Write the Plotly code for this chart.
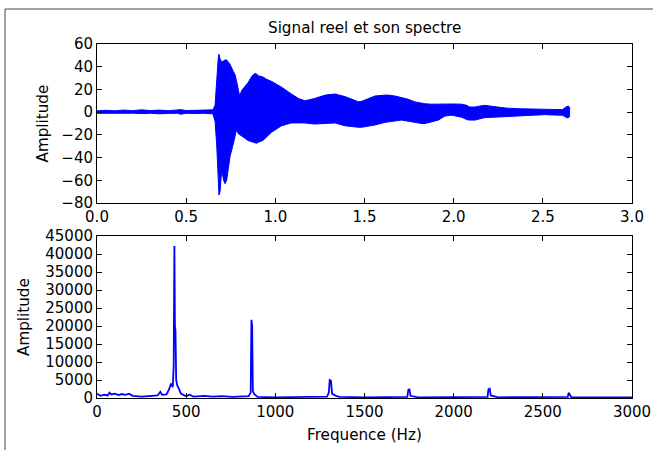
import plotly.graph_objects as go

W, H = 653, 450

# ---- Signal envelope (time s, upper / lower amplitude) ----
env_t = [0.000, 0.050, 0.100, 0.150, 0.200, 0.250, 0.300, 0.350, 0.400, 0.450,
         0.470, 0.500, 0.550, 0.600, 0.650, 0.662, 0.671, 0.680, 0.684, 0.690,
         0.699, 0.710, 0.718, 0.727, 0.736, 0.746, 0.764, 0.774, 0.783, 0.792,
         0.800, 0.811, 0.830, 0.847, 0.870, 0.886, 0.895, 0.905, 0.930, 0.950,
         0.980, 1.035, 1.090, 1.130, 1.166, 1.220, 1.280, 1.335, 1.390, 1.428,
         1.465, 1.484, 1.503, 1.559, 1.615, 1.634, 1.671, 1.709, 1.746, 1.783,
         1.820, 1.839, 1.877, 1.914, 1.950, 1.980, 2.000, 2.045, 2.073, 2.090,
         2.120, 2.150, 2.175, 2.220, 2.300, 2.370, 2.450, 2.510, 2.560, 2.610,
         2.625, 2.634, 2.645, 2.652]
env_hi = [1.2, 1.6, 1.2, 1.8, 1.3, 2.0, 1.4, 1.8, 1.3, 1.5,
          2.2, 1.4, 1.5, 1.3, 2.0, 6.0, 30.0, 48.0, 51.0, 47.0,
          44.0, 45.0, 46.0, 46.0, 44.0, 42.0, 36.0, 33.0, 27.0, 21.0,
          14.0, 19.0, 23.0, 26.0, 32.0, 34.0, 33.5, 32.0, 31.0, 29.0,
          27.0, 22.0, 16.0, 12.0, 10.0, 12.0, 15.0, 16.0, 13.7, 11.5,
          9.2, 9.5, 10.7, 14.2, 15.0, 15.0, 14.2, 13.0, 11.3, 9.0,
          7.7, 7.4, 7.0, 7.2, 7.5, 7.2, 7.2, 7.0, 6.0, 4.5,
          4.5, 5.5, 6.0, 5.0, 3.5, 3.0, 2.7, 2.4, 2.4, 2.2,
          4.0, 5.0, 5.3, 3.0]
env_lo = [-1.0, -0.8, -1.2, -1.0, -0.9, -1.3, -1.0, -1.5, -1.1, -1.0,
          -1.8, -1.0, -1.2, -1.0, -1.5, -8.0, -28.0, -72.0, -73.0, -70.0,
          -51.0, -60.0, -63.0, -60.0, -50.0, -39.0, -28.0, -22.0, -15.0, -19.0,
          -20.0, -20.6, -23.0, -25.0, -26.0, -27.0, -27.4, -26.5, -25.0, -22.0,
          -17.5, -12.0, -9.5, -9.5, -9.5, -10.5, -10.0, -9.5, -12.0, -12.8,
          -13.3, -13.3, -12.8, -11.3, -9.0, -8.5, -7.5, -7.0, -8.0, -9.3,
          -10.0, -10.0, -8.5, -7.0, -3.5, -2.8, -3.0, -4.5, -6.5, -7.0,
          -7.0, -6.0, -4.8, -4.5, -3.8, -3.3, -2.6, -2.2, -2.5, -2.8,
          -4.0, -5.0, -4.8, -3.0]

# ---- Spectrum (Hz, amplitude) ----
spec_f = [0, 20, 40, 60, 70, 80, 100, 120, 140, 160, 180, 200, 250, 300, 340,
          355, 365, 390, 405, 415, 425, 430, 434, 437, 440, 444, 450, 458, 470,
          500, 520, 540, 600, 650, 700, 760, 800, 850, 862, 866, 870, 874, 880,
          900, 1000, 1200, 1290, 1300, 1305, 1312, 1318, 1340, 1360, 1500,
          1740, 1746, 1752, 1758, 1800, 2190, 2195, 2202, 2208, 2250,
          2640, 2645, 2652, 2660, 3000]
spec_a = [1200, 600, 900, 700, 1500, 1000, 1200, 800, 1100, 900, 1200, 600, 400, 500, 700,
          1700, 900, 1000, 2500, 4000, 3000, 9000, 42200, 20000, 18900, 5000, 3500, 2700, 1200,
          500, 900, 400, 600, 400, 500, 300, 400, 500, 1500, 21700, 20000, 2000, 1200,
          300, 200, 200, 400, 1500, 5000, 4800, 1200, 600, 300, 200,
          300, 2300, 2400, 600, 200, 300, 2400, 2600, 700, 200,
          300, 1500, 1000, 200, 150]

top_xticks = [0.0, 0.5, 1.0, 1.5, 2.0, 2.5, 3.0]
top_yticks = [-80, -60, -40, -20, 0, 20, 40, 60]
bot_xticks = [0, 500, 1000, 1500, 2000, 2500, 3000]
bot_yticks = [0, 5000, 10000, 15000, 20000, 25000, 30000, 35000, 40000, 45000]

title_text = "Signal reel et son spectre"
ylabel = "Amplitude"
xlabel = "Frequence (Hz)"

BLUE = "#0000ff"
FONT = "DejaVu Sans"
TICK_SIZE = 15
LABEL_SIZE = 15.2

def px_x(p):
    return p / W

def px_y(p):
    return 1 - p / H

fig = go.Figure()
fig.add_trace(go.Scatter(x=env_t, y=env_lo, mode="lines",
                         line=dict(color=BLUE, width=1), xaxis="x", yaxis="y",
                         showlegend=False, hoverinfo="skip"))
fig.add_trace(go.Scatter(x=env_t, y=env_hi, mode="lines", fill="tonexty",
                         fillcolor=BLUE, line=dict(color=BLUE, width=1),
                         xaxis="x", yaxis="y", showlegend=False, hoverinfo="skip"))
fig.add_trace(go.Scatter(x=spec_f, y=spec_a, mode="lines",
                         line=dict(color=BLUE, width=1.8), xaxis="x2", yaxis="y2",
                         showlegend=False, hoverinfo="skip"))

axis_common = dict(showline=True, linecolor="black", linewidth=1, mirror="ticks",
                   ticks="inside", ticklen=5, tickcolor="black", tickwidth=1,
                   showgrid=False, zeroline=False, automargin=False,
                   tickfont=dict(family=FONT, size=TICK_SIZE, color="black"))

xd = [px_x(97), px_x(632)]
fig.update_layout(
    template="none",
    width=W, height=H,
    margin=dict(l=0, r=0, t=0, b=0, pad=0, autoexpand=False),
    paper_bgcolor="white", plot_bgcolor="white",
    xaxis=dict(domain=xd, range=[0, 3], tickvals=top_xticks,
               ticktext=[f"{v:.1f}" for v in top_xticks], anchor="y", **axis_common),
    yaxis=dict(domain=[px_y(203), px_y(44)], range=[-80, 60], tickvals=top_yticks,
               anchor="x", **axis_common),
    xaxis2=dict(domain=xd, range=[0, 3000], tickvals=bot_xticks,
                ticktext=[str(v) for v in bot_xticks], anchor="y2", **axis_common),
    yaxis2=dict(domain=[px_y(398), px_y(236)], range=[0, 45000], tickvals=bot_yticks,
                ticktext=[str(v) for v in bot_yticks], anchor="x2", **axis_common),
    annotations=[
        dict(text=title_text, x=px_x(364.5), y=px_y(39), xref="paper", yref="paper",
             xanchor="center", yanchor="bottom", showarrow=False,
             font=dict(family=FONT, size=LABEL_SIZE, color="black")),
        dict(text=ylabel, x=px_x(42), y=px_y(123.5), xref="paper", yref="paper",
             xanchor="center", yanchor="middle", textangle=-90, showarrow=False,
             font=dict(family=FONT, size=LABEL_SIZE, color="black")),
        dict(text=ylabel, x=px_x(24), y=px_y(317), xref="paper", yref="paper",
             xanchor="center", yanchor="middle", textangle=-90, showarrow=False,
             font=dict(family=FONT, size=LABEL_SIZE, color="black")),
        dict(text=xlabel, x=px_x(364.5), y=px_y(435), xref="paper", yref="paper",
             xanchor="center", yanchor="middle", showarrow=False,
             font=dict(family=FONT, size=LABEL_SIZE, color="black")),
    ],
    shapes=[
        dict(type="line", xref="paper", yref="paper", x0=px_x(5), y0=px_y(9),
             x1=1, y1=px_y(9), line=dict(color="#444444", width=1)),
        dict(type="line", xref="paper", yref="paper", x0=px_x(5), y0=px_y(9),
             x1=px_x(5), y1=0, line=dict(color="#444444", width=1)),
    ],
)

fig.write_html("out.html",
               config={"displayModeBar": False, "staticPlot": True},
               post_script="document.body.style.margin='0';"
                           "document.body.style.overflow='hidden';")
